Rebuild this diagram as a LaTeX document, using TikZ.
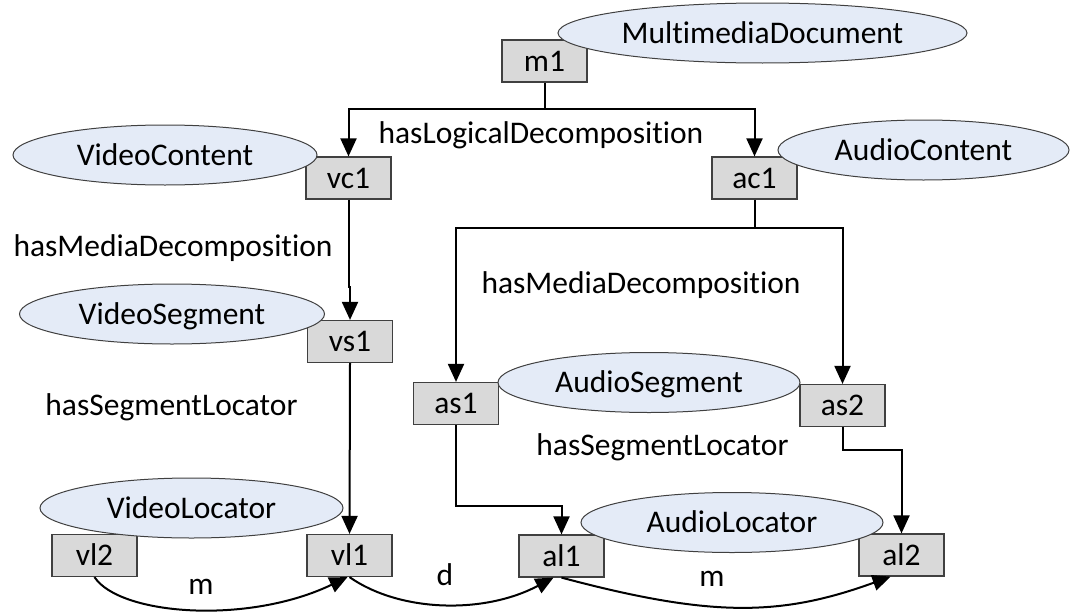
\documentclass[tikz,border=0pt]{standalone}
\usepackage{fontspec}
\setmainfont{Carlito}[Ligatures=NoCommon]
\usetikzlibrary{arrows.meta,shapes.geometric}
\definecolor{boxfill}{RGB}{217,217,217}
\definecolor{ellfill}{RGB}{228,235,247}
\definecolor{rim}{RGB}{64,64,64}

\begin{document}
\begin{tikzpicture}[x=1pt,y=-1pt,
  every node/.style={font=\fontsize{31.5}{36}\selectfont, text height=20.3pt, text depth=0pt, inner sep=0pt},
  inst/.style={draw=rim, line width=1.2pt, fill=boxfill, minimum width=85pt, minimum height=42pt},
  cls/.style={ellipse, draw=rim, line width=1pt, fill=ellfill, minimum height=60pt},
  link/.style={line width=2pt, -{Triangle[width=16pt,length=18pt]}},
  plain/.style={line width=2pt}
]
\useasboundingbox (0,0) rectangle (1071,613);

% instance boxes
\node[inst] (m1)  at (544.5,61)  {m1};
\node[inst] (vc1) at (348.5,178) {vc1};
\node[inst] (ac1) at (754.5,178) {ac1};
\node[inst] (vs1) at (350,341.5) {vs1};
\node[inst] (as1) at (456,403.5) {as1};
\node[inst] (as2) at (842.5,405.5) {as2};
\node[inst] (vl2) at (94.5,555.5) {vl2};
\node[inst] (vl1) at (349.5,555.5) {vl1};
\node[inst] (al1) at (561.5,556) {al1};
\node[inst] (al2) at (901.5,555) {al2};

% class ellipses
\node[cls, minimum width=409pt] (cmd) at (762.5,33)  {MultimediaDocument};
\node[cls, minimum width=304pt] (cvc) at (165,155)   {VideoContent};
\node[cls, minimum width=291pt] (cac) at (923.5,150) {AudioContent};
\node[cls, minimum width=305pt] (cvs) at (172,314)   {VideoSegment};
\node[cls, minimum width=302pt] (cas) at (649,382.5) {AudioSegment};
\node[cls, minimum width=303pt] (cvl) at (191.5,508) {VideoLocator};
\node[cls, minimum width=302pt] (cal) at (732,522.5) {AudioLocator};

% property labels
\node (lld)  at (541,133)   {hasLogicalDecomposition};
\node (lmd1) at (173,246)   {hasMediaDecomposition};
\node (lmd2) at (641,283)   {hasMediaDecomposition};
\node (lsl1) at (171.5,405) {hasSegmentLocator};
\node (lsl2) at (662.5,445) {hasSegmentLocator};
\node (lm1)  at (201,584)   {m};
\node (ld)   at (445,575)   {d};
\node (lm2)  at (712,576)   {m};

% junction points of the elbow connectors
\coordinate (j1) at (544.5,109);
\coordinate (j2) at (754.5,228);
\coordinate (j3) at (348.5,287);
\coordinate (j4) at (456,506);
\coordinate (j5) at (842.5,450);

% hasLogicalDecomposition
\draw[plain] (m1.south) -- (j1);
\draw[link] (j1) -| (vc1.north);
\draw[link] (j1) -| (ac1.north);

% hasMediaDecomposition
\draw[link] (vc1.south) -- (j3) -| (vs1.north);
\draw[plain] (ac1.south) -- (j2);
\draw[link] (j2) -| (as1.north);
\draw[link] (j2) -| (as2.north);

% hasSegmentLocator
\draw[link] (vs1.south) -- (vl1.north);
\draw[link] (as1.south) -- (j4) -| (al1.north);
\draw[link] (as2.south) -- (j5) -| (al2.north);

% locator relations
\draw[link] (vl2.south) .. controls +(25,38) and +(-100,48) .. ([xshift=-2pt]vl1.south);
\draw[link] (vl1.south) .. controls +(50,35) and +(-70,37) .. ([xshift=-8pt]al1.south);
\draw[link] (al1.south) .. controls +(150,40) and +(-110,40) .. ([xshift=-11pt]al2.south);
\end{tikzpicture}
\end{document}
